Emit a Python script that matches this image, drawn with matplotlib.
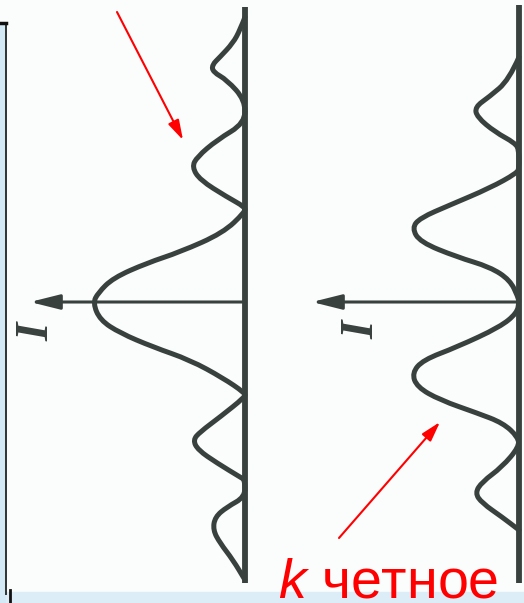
import matplotlib.pyplot as plt
import numpy as np
from matplotlib.path import Path
from matplotlib.patches import PathPatch, Rectangle

# Intensity profiles, I measured from the screen axis, z along the screen (up = +)
# odd number of zones: bright centre
odd_z = [285, 272, 259, 245, 237, 230, 222, 202,
         179, 162, 145, 135, 122, 105, 95,
         90, 69, 50, 39, 24, 9, -1, -18, -31, -45, -58, -76, -91,
         -95, -115, -130, -138, -148, -161, -175, -178,
         -195, -205, -215, -228, -241, -258, -278]
odd_I = [0, 5, 12, 25, 33, 32, 18, 0,
         0, 28, 48, 53, 45, 18, 0,
         0, 22, 65, 98, 132, 147, 152, 145, 125, 92, 55, 22, 0,
         0, 25, 45, 52, 47, 28, 5, 0,
         0, 18, 30, 32, 25, 12, 0]

# even number of zones: dark centre
even_z = [245, 222, 205, 195, 185, 170, 159, 152,
          134, 129, 114, 97, 84, 74, 60, 45, 35, 22, 5, 0,
          -11, -25, -45, -58, -71, -85, -98, -111, -121, -135,
          -145, -165, -180, -191, -201, -215, -228]
even_I = [0, 10, 30, 44, 42, 24, 4, 0,
          0, 2, 29, 69, 99, 107, 99, 62, 29, 9, 1, 0,
          2, 19, 62, 96, 107, 102, 79, 42, 16, 1,
          0, 17, 37, 44, 37, 17, 0]

odd_screen = (295, -281)
even_screen = (297, -281)
odd_arrow = 215
even_arrow = 207

label_text = "четное"

W, H = 524, 603
CY = 302
ink = "#38413d"
red = "#ff0000"

plt.rcParams["mathtext.fontset"] = "custom"
plt.rcParams["mathtext.it"] = "Liberation Sans:italic"

fig = plt.figure(figsize=(W / 100, H / 100), dpi=100)
fig.patch.set_facecolor("#fbfcfc")

bg = fig.add_axes([0, 0, 1, 1])
bg.set_xlim(0, W)
bg.set_ylim(H, 0)
bg.axis("off")

# slide frame
bg.add_patch(Rectangle((0, 23), 5, H - 23, color="#d3e9f6", zorder=1))
bg.add_patch(Rectangle((6, 592), W - 6, 11, color="#dcedf8", zorder=1))
bg.plot([5.5, 5.5], [23, 594], color="#2e3333", lw=1.4, zorder=2)
bg.plot([0, 6], [23, 23], color="#111111", lw=2.5, zorder=2)
bg.plot([10, 10], [590, 603], color="#111111", lw=2.0, zorder=2)


def smooth_path(I, z):
    pts = np.column_stack([I, z]).astype(float)
    verts = [pts[0]]
    codes = [Path.MOVETO]
    for i in range(1, len(pts) - 1):
        verts += [pts[i], (pts[i] + pts[i + 1]) / 2]
        codes += [Path.CURVE3, Path.CURVE3]
    verts.append(pts[-1])
    codes.append(Path.LINETO)
    return Path(verts, codes)


def diagram(axis_px, I, z, screen, arrow_len, label_pos):
    ax = fig.add_axes([0, 0, 1, 1], facecolor="none")
    ax.set_xlim(axis_px, axis_px - W)
    ax.set_ylim(CY - H, CY)
    ax.axis("off")
    ax.add_patch(PathPatch(smooth_path(I, z), fill=False, ec=ink, lw=3.6,
                           capstyle="round", joinstyle="round", zorder=3))
    ax.plot([0, 0], screen, color=ink, lw=4.2, solid_capstyle="butt", zorder=3)
    ax.annotate("", xy=(arrow_len, 0), xytext=(0, 0),
                arrowprops=dict(arrowstyle="-|>,head_length=1.8,head_width=0.45",
                                mutation_scale=10, color=ink, lw=2.2,
                                shrinkA=0, shrinkB=0), zorder=3)
    ax.text(label_pos[0], label_pos[1], "I", rotation=90, fontstyle="italic",
            fontweight="bold", family="Liberation Serif", fontsize=34, color=ink,
            ha="center", va="center", zorder=3)
    return ax


ax_odd = diagram(245, odd_I, odd_z, odd_screen, odd_arrow, (208, -30))
ax_even = diagram(519, even_I, even_z, even_screen, even_arrow, (157, -28))

red_arrow = dict(arrowstyle="-|>,head_length=1.2,head_width=0.35",
                 mutation_scale=10, color=red, lw=1.5, shrinkA=0, shrinkB=0)
ax_odd.annotate("", xy=(62, 162), xytext=(128, 290), arrowprops=red_arrow, zorder=4)
ax_even.annotate("", xy=(79, -120), xytext=(180, -236), arrowprops=red_arrow, zorder=4)
ax_even.text(241, -295, "$k$ " + label_text, family="Liberation Sans", fontsize=40,
             color=red, ha="left", va="baseline", zorder=5)

fig.savefig("out.png", dpi=100, facecolor=fig.get_facecolor())
